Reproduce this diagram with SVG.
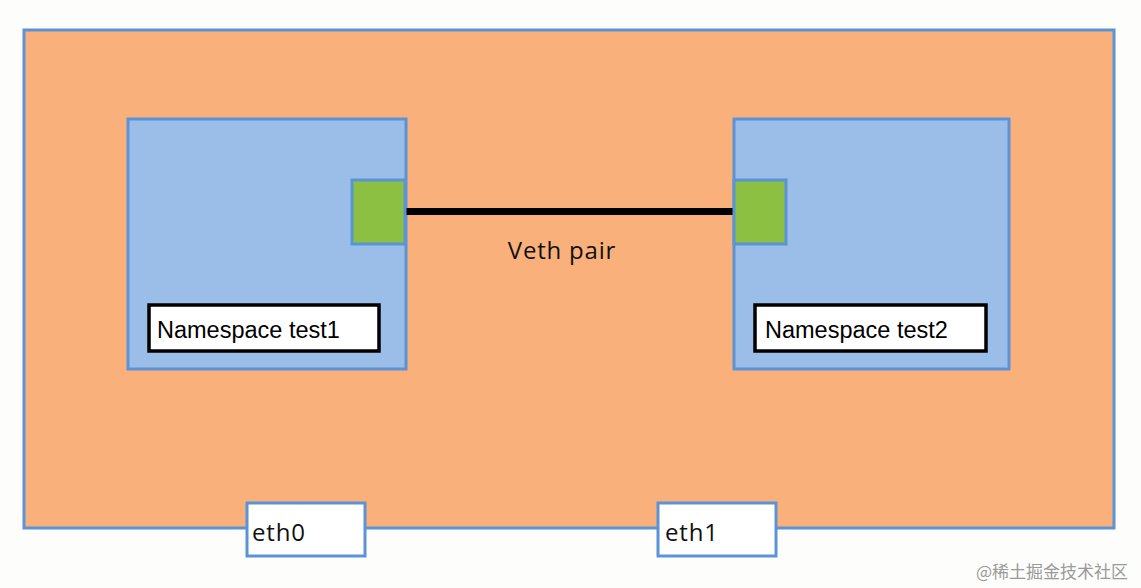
<svg xmlns="http://www.w3.org/2000/svg" width="1141" height="588" viewBox="0 0 1141 588">
<style>
.host{fill:#FAB07A;stroke:#5B94D6;stroke-width:3}
.ns{fill:#9BBEE8;stroke:#5B94D6;stroke-width:3}
.veth{fill:#8CC043;stroke:#5B94D6;stroke-width:3}
.lbl{fill:#fff;stroke:#000;stroke-width:3.5}
.eth{fill:#fff;stroke:#5B94D6;stroke-width:3}
.t{font-family:"Liberation Sans",Arial,sans-serif;font-size:23.5px;fill:#000}
.c{font-family:"Open Sans","Liberation Sans",sans-serif;font-size:24px;letter-spacing:0.8px;fill:#111}
.wm{font-family:"Noto Sans CJK SC",sans-serif;font-size:17px;fill:#9a9a9a}
</style>
<rect width="1141" height="588" fill="#fdfdfb"/>
<g id="host"><rect class="host" x="24" y="30" width="1090" height="498"/></g>
<g id="ns1">
<rect class="ns" x="128" y="119" width="278" height="250"/>
<rect class="lbl" x="149" y="305" width="230" height="46"/>
<text class="t" x="157" y="338">Namespace test1</text>
</g>
<g id="ns2">
<rect class="ns" x="734" y="119" width="275" height="250"/>
<rect class="lbl" x="755" y="305" width="231" height="46"/>
<text class="t" x="765" y="338">Namespace test2</text>
</g>
<g id="connectors">
<line x1="404" y1="211.5" x2="734" y2="211.5" stroke="#000" stroke-width="7"/>
</g>
<g id="veth1"><rect class="veth" x="352" y="180" width="53" height="64"/></g>
<g id="veth2"><rect class="veth" x="734" y="180" width="52" height="64"/></g>
<g id="veth-label"><text class="c" x="562" y="259" text-anchor="middle">Veth pair</text></g>
<g id="eth0">
<rect class="eth" x="247" y="503" width="118" height="53"/>
<text class="c" x="252" y="541">eth0</text>
</g>
<g id="eth1">
<rect class="eth" x="658" y="503" width="118" height="53"/>
<text class="c" x="665" y="541">eth1</text>
</g>
<text class="wm" x="976" y="578">@稀土掘金技术社区</text>
</svg>
